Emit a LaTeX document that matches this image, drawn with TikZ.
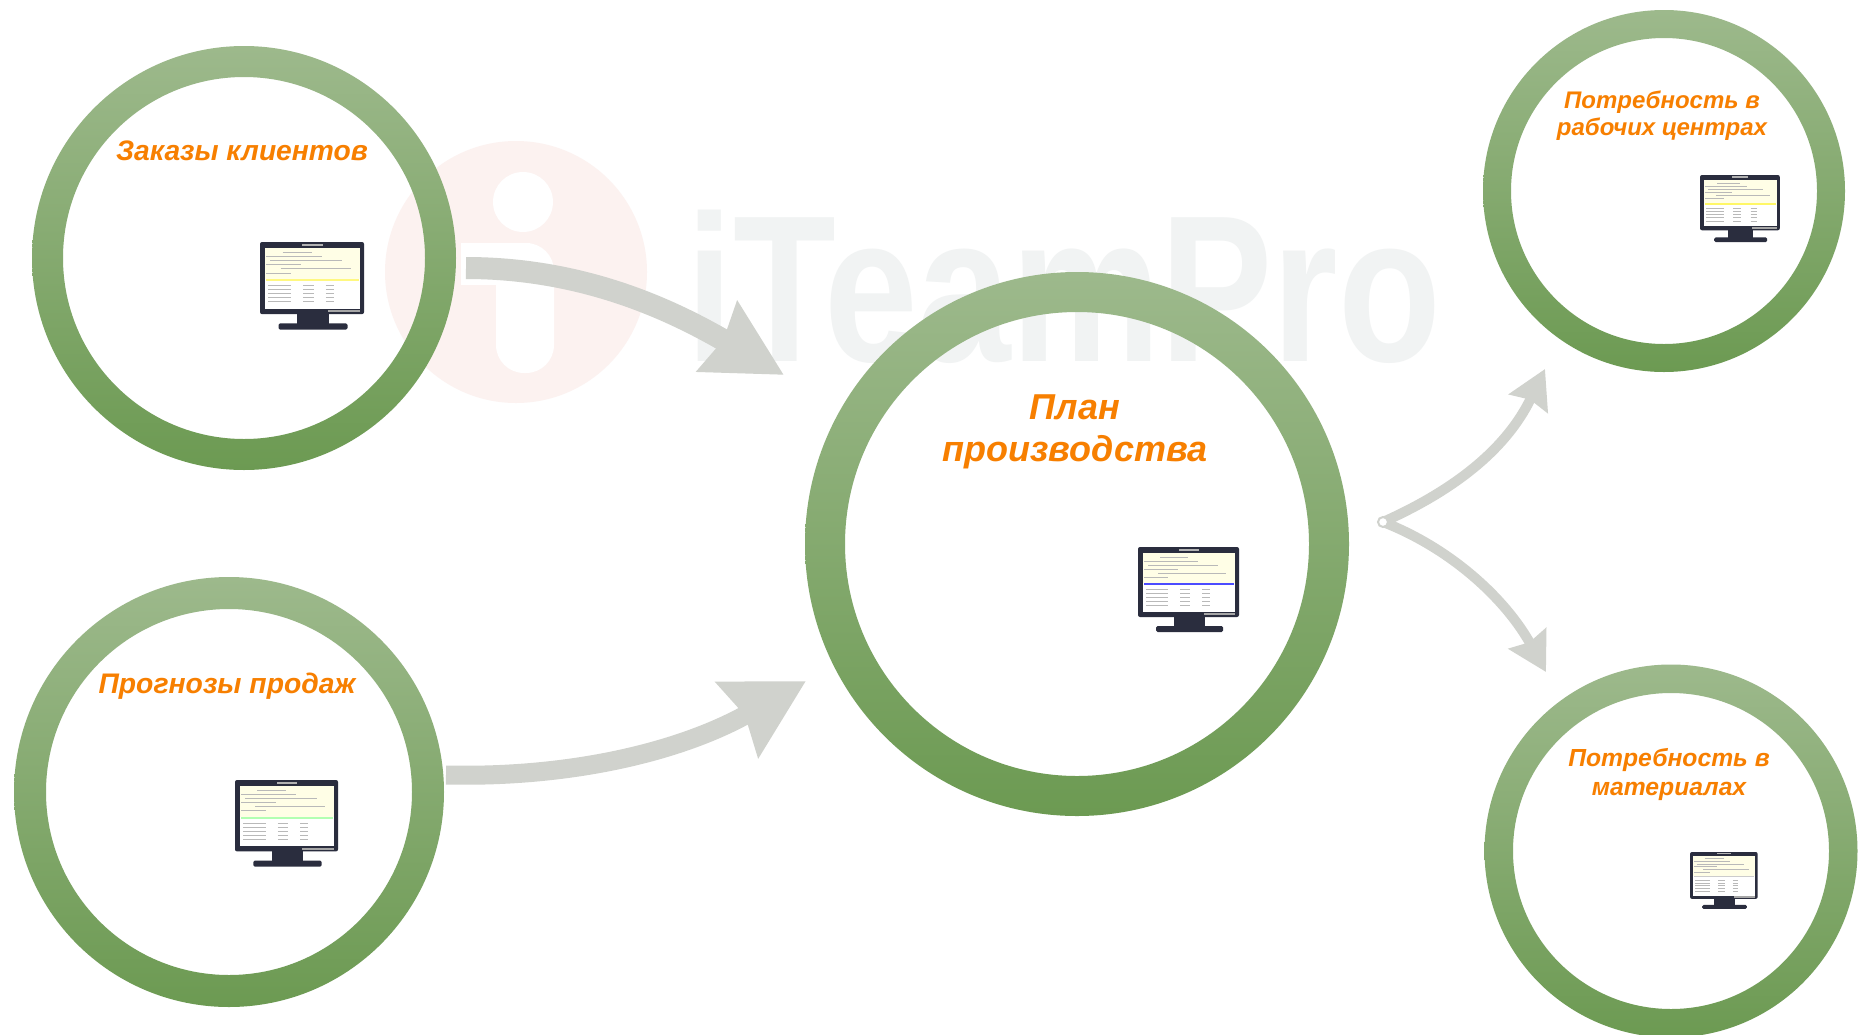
\documentclass[tikz,border=0pt]{standalone}
\usepackage{fontspec}
\setmainfont{Liberation Sans}
\usetikzlibrary{arrows.meta}
\definecolor{ringtop}{HTML}{9DB98C}
\definecolor{ringbot}{HTML}{6C9A52}
\definecolor{arrowgrey}{HTML}{D0D2CD}
\definecolor{labelorange}{HTML}{F77F00}
\definecolor{bezel}{HTML}{2A2D3E}
\definecolor{wmgrey}{HTML}{F1F3F3}
\definecolor{wmpink}{HTML}{FCF2F0}
\newcommand{\greenring}[5]{%
  \shade[even odd rule,top color=ringtop,bottom color=ringbot] (#2,#3) circle (#4) (#2,#3) circle (#5);
  \node[circle,inner sep=0pt,minimum size=2*#4 pt] (#1) at (#2,#3) {};}
\tikzset{
  label/.style={text=labelorange,font=\bfseries\itshape,align=center,inner sep=0pt},
  pics/monitor/.style n args={1}{code={
    \fill[bezel,rounded corners=2] (0,0) rectangle (101,70);
    \fill[bezel] (36,70) rectangle (67,80);
    \fill[bezel,rounded corners=1.5] (18,79) rectangle (85,85);
    \fill[gray!60] (41,1.5) rectangle (61,3.5);
    \fill[gray!70] (66,66.3) rectangle (97,68.3);
    \fill[white] (5,6) rectangle (97,65);
    \fill[yellow!10] (5,6) rectangle (97,36);
    \fill[#1] (6,36) rectangle (96,38);
    \foreach \yy/\aa/\bb in {10/22/50,14/6/60,18/10/80,22/6/40,26/20/88,30/6/30}{
      \draw[gray!55,line width=.6pt] (\aa,\yy) -- (\bb,\yy);}
    \foreach \yy in {42,46,50,54,58}{
      \draw[gray!55,line width=.6pt] (8,\yy) -- (30,\yy) (42,\yy) -- (52,\yy) (64,\yy) -- (72,\yy);}
  }}
}
\begin{document}
\begin{tikzpicture}[x=1pt,y=-1pt]
\path[clip] (0,0) rectangle (1864,1034);
\fill[white] (0,0) rectangle (1864,1034);
% watermark
\fill[wmpink] (516,272) circle (131);
\fill[white] (523,202) circle (30);
\fill[white,rounded corners=28] (496,243) -- (554,243) -- (554,373) -- (496,373) -- cycle;
\fill[white] (461,243) rectangle (530,285);
\node[text=wmgrey,font=\bfseries\fontsize{209}{209}\selectfont,xscale=.805,anchor=base,inner sep=0pt] (wm) at (1064,361) {iTeamPro};
% rings
\greenring{zak}{244}{258}{212}{181}
\greenring{prog}{229}{792}{215}{183}
\greenring{plan}{1077}{544}{272}{232}
\greenring{work}{1664}{191}{181}{153}
\greenring{mat}{1671}{851}{186.5}{158}
% labels
\node[label,font=\bfseries\itshape\fontsize{28.2}{33}\selectfont] (tzak) at (242,151) {Заказы клиентов};
\node[label,font=\bfseries\itshape\fontsize{28.3}{33}\selectfont] (tprog) at (227,686) {Прогнозы продаж};
\node[label,font=\bfseries\itshape\fontsize{36}{42}\selectfont] (tplan) at (1075,432) {План\\производства};
\node[label,font=\bfseries\itshape\fontsize{24}{27}\selectfont] (twork) at (1662,116) {Потребность в\\рабочих центрах};
\node[label,font=\bfseries\itshape\fontsize{24.7}{29}\selectfont] (tmat) at (1669,774) {Потребность в\\материалах};
% monitors
\pic[scale=1.03] at (260,242) {monitor={yellow!50!white}};
\pic[scale=1.02] at (235,780) {monitor={green!30!white}};
\pic[scale=1] at (1138,547) {monitor={blue!70!white}};
\pic[scale=.79] at (1700,175) {monitor={yellow!60!white}};
\pic[scale=.67] at (1690,852) {monitor={gray!40}};
% connector ends
\coordinate (a1s) at (466,268);
\coordinate (a1t) at (784,375);
\coordinate (a2s) at (446,775);
\coordinate (a2t) at (806,681);
\coordinate (hub) at (1383,522);
\coordinate (a3t) at (1545,369);
\coordinate (a4t) at (1546,672);
% arrows
\draw[arrowgrey,line width=22pt,-{Stealth[length=76pt,width=78pt,inset=6pt]}] (a1s) .. controls (590,268) and (680,315) .. (a1t);
\draw[arrowgrey,line width=19pt,-{Stealth[length=78pt,width=84pt,inset=8pt]}] (a2s) .. controls (570,778) and (680,752) .. (a2t);
\draw[arrowgrey,line width=10pt,-{Stealth[length=38pt,width=42pt,inset=4pt]}] (hub) .. controls (1450,492) and (1505,452) .. (a3t);
\draw[arrowgrey,line width=10pt,-{Stealth[length=38pt,width=42pt,inset=4pt]}] (hub) .. controls (1450,548) and (1505,598) .. (a4t);
\node[circle,inner sep=0pt,minimum size=10pt,draw=arrowgrey,fill=white,line width=2pt] (hubdot) at (hub) {};
\end{tikzpicture}
\end{document}
